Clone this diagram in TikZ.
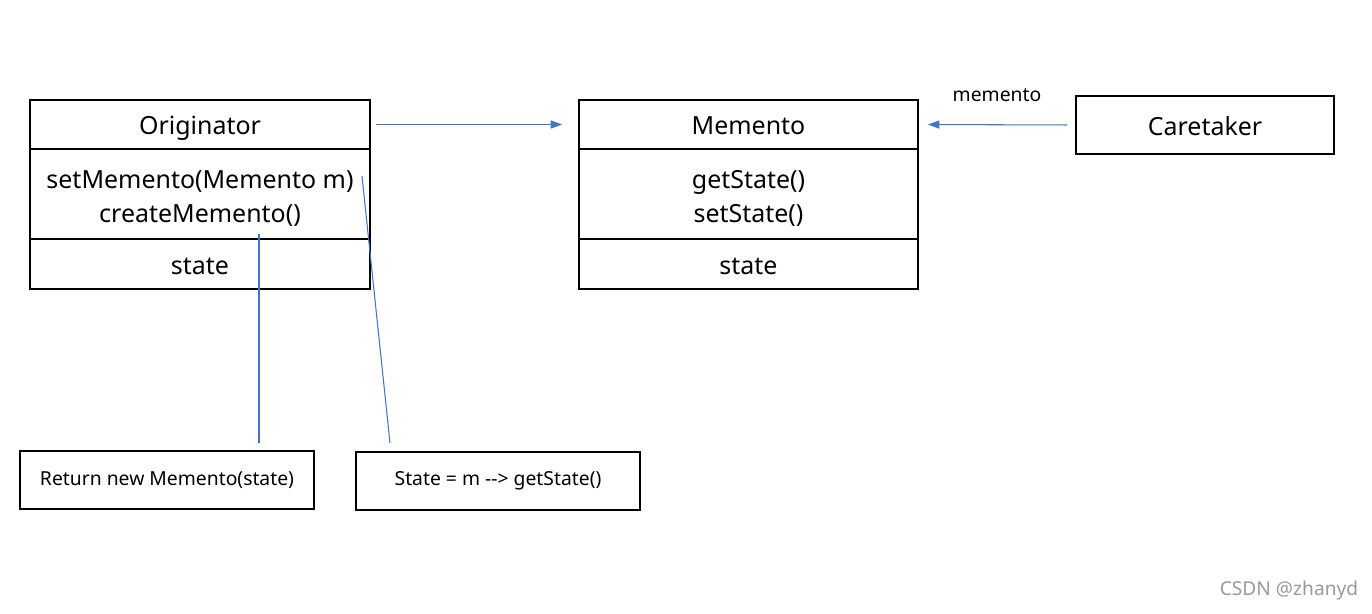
\documentclass[tikz,border=0pt]{standalone}
\usepackage{fontspec}
\setmainfont{Noto Sans}
\usepackage{tikz}
\usetikzlibrary{arrows.meta}
\definecolor{linkblue}{RGB}{68,114,196}
\newcommand{\topgap}{\rule{0pt}{15pt}}

\begin{document}
\begin{tikzpicture}[
		x=0.02cm, y=-0.02cm,
		every node/.style = {shape=rectangle, align=center, inner sep=0pt},
		part/.style = {draw, line width=1.1pt, minimum width=6.8cm, font=\fontsize{14.2}{19.3}\selectfont},
		oneline/.style = {part, text height=11.5pt, text depth=0pt},
		note/.style = {draw, line width=1.1pt, minimum height=1.16cm, font=\fontsize{11}{13}\selectfont},
		link/.style = {draw=linkblue, line width=0.6pt},
		arrow/.style = {link, -{Triangle[length=6.5pt, width=4.6pt]}}]
		\useasboundingbox (0,0) rectangle (1372,613);
		% Originator
		\node[oneline, minimum height=0.98cm] (orig) at (200,124.5) {Originator};
		\node[part, minimum height=1.8cm] (origops) at (200,194) {\topgap setMemento(Memento m)\\createMemento()};
		\node[oneline, minimum height=1.0cm] (origattr) at (200,264) {state};
		% Memento
		\node[oneline, minimum width=6.78cm, minimum height=0.98cm] (memo) at (748.5,124.5) {Memento};
		\node[part, minimum width=6.78cm, minimum height=1.8cm] (memoops) at (748.5,194) {\topgap getState()\\setState()};
		\node[oneline, minimum width=6.78cm, minimum height=1.0cm] (memoattr) at (748.5,264) {state};
		% Caretaker
		\node[oneline, minimum width=5.16cm, minimum height=1.16cm] (care) at (1205,125) {Caretaker};
		% notes
		\node[note, minimum width=5.88cm] (ret) at (167,480) {Return new Memento(state)};
		\node[note, minimum width=5.68cm] (getst) at (498,481) {State = m {-}{-}> getState()};
		\coordinate (create) at (259,234);
		\coordinate (createend) at (259,443);
		\coordinate (setm) at (362,176);
		\coordinate (setmend) at (390,443);
		% connectors
		\draw[arrow, shorten <=5*0.02cm, shorten >=16*0.02cm] (orig.east) -- (memo.west);
		\draw[arrow, shorten <=8*0.02cm, shorten >=9*0.02cm] (care.west) -- node[above=13pt, font=\fontsize{11}{13}\selectfont] {memento} (memo.east);
		\draw[link] (create) -- (createend);
		\draw[link] (setm) -- (setmend);
		% watermark
		\node[text=gray!80, font=\fontsize{10.9}{13}\selectfont] (mark) at (1289,591) {CSDN @zhanyd};
	\end{tikzpicture}
\end{document}
